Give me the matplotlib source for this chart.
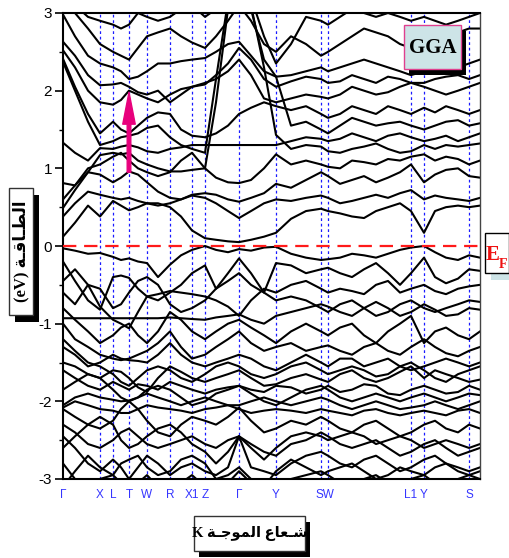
import matplotlib.pyplot as plt
from matplotlib.patches import Rectangle, FancyArrowPatch

plt.rcParams['axes.unicode_minus'] = False

W, H = 510, 558

# high-symmetry points along the k-path (path length in plot units)
kpts = [0, 37, 50, 66, 84, 107, 129, 142, 176, 213, 258, 265, 348, 361, 406]
klabels = ['Γ', 'X', 'L', 'T', 'W', 'R', 'X1', 'Z', 'Γ', 'Y', '', '', 'L1', 'Y', 'S']
# S and W are only 7 units apart, labelled together as "SW"
sw_k = 261.5
sw_label = 'SW'
kend = 417

kgrid = [0, 12, 25, 37, 50, 58, 66, 75, 84, 95, 107, 118, 129, 142, 153, 165, 176,
         188, 201, 213, 228, 243, 258, 265, 277, 289, 301, 313, 325, 337, 348, 361,
         372, 383, 395, 406, 417]

# conduction bands (eV)
cb1 = [0.12, 0.30, 0.52, 0.38, 0.58, 0.52, 0.46, 0.50, 0.55, 0.55, 0.50, 0.38, 0.20, 0.10, 0.08, 0.06, 0.05,
       0.08, 0.12, 0.17, 0.35, 0.45, 0.48, 0.45, 0.42, 0.38, 0.36, 0.45, 0.50, 0.55, 0.45, 0.17, 0.45, 0.50, 0.52, 0.50, 0.52]
cb2 = [0.38, 0.55, 0.70, 0.66, 0.62, 0.60, 0.62, 0.58, 0.55, 0.52, 0.55, 0.60, 0.65, 0.62, 0.55, 0.45, 0.36,
       0.45, 0.55, 0.60, 0.58, 0.62, 0.65, 0.62, 0.55, 0.58, 0.62, 0.66, 0.62, 0.68, 0.72, 0.60, 0.65, 0.62, 0.60, 0.58, 0.62]
cb3 = [0.49, 0.72, 0.95, 0.92, 0.82, 0.88, 0.96, 0.92, 0.82, 0.70, 0.62, 0.60, 0.66, 0.68, 0.66, 0.60, 0.57,
       0.62, 0.68, 0.80, 0.75, 0.85, 0.95, 0.90, 0.80, 0.85, 0.90, 0.82, 0.88, 0.95, 1.05, 0.82, 0.92, 0.98, 1.00, 0.90, 0.88]
cb4 = [0.60, 0.78, 1.00, 1.05, 1.15, 1.20, 1.10, 1.00, 0.95, 0.90, 0.95, 1.10, 1.20, 1.00, 0.88, 0.82, 0.81,
       0.85, 1.00, 1.18, 1.05, 1.10, 1.05, 1.02, 1.00, 1.10, 1.08, 1.05, 1.12, 1.10, 1.15, 1.18, 1.10, 1.15, 1.12, 1.05, 1.10]
cb5 = [0.81, 0.78, 0.95, 1.17, 1.20, 1.18, 1.20, 1.10, 1.05, 1.00, 0.96, 0.96, 0.98, 1.00, 1.85, 3.05, 3.40,
       3.10, 2.30, 1.43, 1.25, 1.30, 1.28, 1.22, 1.20, 1.25, 1.28, 1.32, 1.25, 1.20, 1.22, 1.30, 1.25, 1.30, 1.28, 1.30, 1.32]
cb6 = [1.33, 1.20, 1.10, 1.26, 1.25, 1.28, 1.30, 1.27, 1.22, 1.20, 1.25, 1.27, 1.30, 1.30, 1.30, 1.30, 1.30,
       1.30, 1.30, 1.30, 1.35, 1.40, 1.38, 1.35, 1.38, 1.45, 1.40, 1.35, 1.42, 1.45, 1.40, 1.35, 1.38, 1.42, 1.35, 1.40, 1.45]
cb7 = [2.37, 2.00, 1.60, 1.30, 1.35, 1.40, 1.42, 1.45, 1.52, 1.55, 1.40, 1.30, 1.25, 1.20, 2.15, 3.15, 3.40,
       3.05, 2.40, 2.18, 1.55, 1.60, 1.50, 1.45, 1.55, 1.65, 1.60, 1.55, 1.58, 1.60, 1.55, 1.50, 1.55, 1.60, 1.62, 1.55, 1.58]
cb8 = [2.41, 2.05, 1.70, 1.45, 1.60, 1.50, 1.45, 1.55, 1.65, 1.72, 1.70, 1.50, 1.42, 1.40, 1.45, 1.55, 1.70,
       1.78, 1.85, 1.80, 1.75, 1.80, 1.70, 1.65, 1.70, 1.80, 1.75, 1.70, 1.80, 1.75, 1.70, 1.78, 1.72, 1.80, 1.75, 1.70, 1.75]
cb9 = [2.52, 2.30, 2.00, 1.85, 1.82, 1.88, 2.00, 1.95, 1.90, 1.85, 1.95, 2.02, 2.05, 2.10, 2.15, 2.25, 2.40,
       2.20, 1.90, 1.85, 1.90, 1.95, 1.92, 1.90, 1.95, 2.05, 2.00, 1.95, 1.98, 2.05, 2.10, 2.05, 2.00, 1.95, 2.00, 2.05, 2.10]
cb10 = [2.63, 2.45, 2.20, 2.07, 2.08, 2.10, 2.05, 1.98, 1.95, 2.00, 1.85, 1.95, 2.05, 2.08, 2.20, 2.35, 2.55,
        2.40, 2.15, 2.05, 2.12, 2.18, 2.15, 2.10, 2.12, 2.20, 2.15, 2.10, 2.18, 2.15, 2.10, 2.10, 2.15, 2.18, 2.20, 2.15, 2.20]
cb11 = [2.98, 2.70, 2.45, 2.35, 2.30, 2.25, 2.15, 2.18, 2.25, 2.35, 2.35, 2.38, 2.40, 2.42, 2.50, 2.60, 2.63,
        2.45, 2.25, 2.18, 2.20, 2.25, 2.30, 2.25, 2.30, 2.35, 2.40, 2.35, 2.30, 2.25, 2.20, 2.25, 2.30, 2.35, 2.30, 2.35, 2.40]
cb12 = [3.20, 3.00, 2.80, 2.60, 2.50, 2.45, 2.40, 2.55, 2.70, 2.75, 2.80, 2.70, 2.62, 2.55, 2.70, 2.90, 3.10,
        2.90, 2.60, 2.50, 2.70, 2.60, 2.45, 2.50, 2.60, 2.70, 2.80, 2.75, 2.70, 2.60, 2.55, 2.60, 2.65, 2.70, 2.75, 2.80, 2.80]
cb13 = [3.30, 3.10, 2.95, 2.90, 2.85, 2.80, 2.85, 3.00, 2.95, 2.90, 2.95, 3.05, 3.10, 2.95, 3.05, 3.20, 3.40,
        3.20, 2.70, 2.35, 2.60, 2.95, 2.90, 2.85, 2.95, 3.05, 3.00, 2.95, 3.00, 2.95, 2.90, 2.95, 2.90, 2.85, 2.90, 2.95, 3.00]

# valence bands (eV)
vb1 = [-0.03, -0.06, -0.10, -0.09, -0.14, -0.18, -0.16, -0.20, -0.22, -0.40, -0.24, -0.12, -0.05, 0.00, -0.05, -0.08, -0.04,
       -0.06, -0.02, -0.01, -0.10, -0.15, -0.18, -0.17, -0.15, -0.10, -0.12, -0.15, -0.10, -0.05, -0.02, 0.00, -0.08, -0.15, -0.18, -0.12, -0.15]
vb2 = [-0.20, -0.45, -0.70, -0.82, -0.40, -0.38, -0.41, -0.55, -0.65, -0.70, -0.60, -0.50, -0.35, -0.25, -0.55, -0.35, -0.16,
       -0.35, -0.60, -0.22, -0.25, -0.35, -0.30, -0.28, -0.35, -0.40, -0.30, -0.22, -0.35, -0.50, -0.35, -0.15, -0.40, -0.48, -0.42, -0.30, -0.32]
vb3 = [-0.45, -0.30, -0.50, -0.78, -0.95, -1.00, -1.06, -0.85, -0.65, -0.62, -0.58, -0.60, -0.62, -0.65, -0.70, -0.78, -0.90,
       -0.70, -0.55, -0.60, -0.50, -0.45, -0.55, -0.60, -0.55, -0.58, -0.62, -0.50, -0.45, -0.60, -0.55, -0.50, -0.58, -0.62, -0.55, -0.52, -0.50]
vb4 = [-0.93, -0.93, -0.93, -0.93, -0.93, -0.93, -0.93, -0.93, -0.93, -0.93, -0.92, -0.93, -0.94, -0.95, -0.92, -0.90, -0.88,
       -0.95, -1.00, -0.90, -0.85, -0.80, -0.75, -0.78, -0.85, -0.90, -0.80, -0.72, -0.80, -0.90, -0.85, -0.75, -0.82, -0.90, -0.88, -0.80, -0.82]
vb5 = [-0.80, -0.95, -1.10, -1.25, -1.15, -1.05, -1.00, -1.15, -1.25, -1.10, -0.85, -0.95, -1.10, -1.20, -1.10, -1.00, -0.95,
       -1.05, -1.15, -1.25, -1.10, -1.00, -1.10, -1.15, -1.05, -1.00, -1.15, -1.25, -1.10, -1.00, -0.90, -1.25, -1.10, -1.05, -1.15, -1.20, -1.10]
vb6 = [-1.00, -1.20, -1.30, -1.40, -1.45, -1.47, -1.45, -1.40, -1.35, -1.25, -1.10, -1.30, -1.45, -1.40, -1.30, -1.20, -1.10,
       -1.25, -1.35, -1.30, -1.25, -1.35, -1.30, -1.28, -1.35, -1.40, -1.30, -1.25, -1.35, -1.40, -1.30, -1.20, -1.30, -1.38, -1.42, -1.35, -1.30]
vb7 = [-1.30, -1.40, -1.55, -1.50, -1.40, -1.45, -1.47, -1.48, -1.50, -1.40, -1.25, -1.40, -1.50, -1.55, -1.50, -1.45, -1.40,
       -1.45, -1.55, -1.60, -1.50, -1.40, -1.50, -1.55, -1.45, -1.45, -1.55, -1.50, -1.45, -1.55, -1.60, -1.55, -1.50, -1.45, -1.50, -1.55, -1.50]
vb8 = [-1.50, -1.55, -1.65, -1.70, -1.60, -1.62, -1.70, -1.82, -1.88, -1.70, -1.55, -1.62, -1.70, -1.75, -1.70, -1.65, -1.60,
       -1.70, -1.80, -1.78, -1.70, -1.65, -1.72, -1.75, -1.65, -1.60, -1.70, -1.75, -1.70, -1.62, -1.55, -1.70, -1.60, -1.65, -1.70, -1.75, -1.72]
vb9 = [-1.60, -1.70, -1.80, -1.85, -1.75, -1.80, -1.85, -1.78, -1.80, -1.85, -1.75, -1.80, -1.85, -1.90, -1.85, -1.82, -1.80,
       -1.85, -1.88, -1.80, -1.82, -1.90, -1.85, -1.80, -1.88, -1.85, -1.78, -1.80, -1.90, -1.92, -1.85, -1.80, -1.85, -1.90, -1.88, -1.80, -1.85]
vb10 = [-2.05, -1.95, -1.90, -1.95, -1.98, -2.00, -1.99, -1.95, -1.90, -1.95, -2.00, -2.05, -2.00, -1.95, -2.00, -2.05, -2.05,
        -2.00, -1.95, -2.00, -2.05, -2.00, -1.95, -1.98, -2.05, -2.10, -2.05, -2.00, -2.05, -2.10, -2.08, -2.05, -2.00, -2.05, -2.10, -2.05, -2.00]
vb11 = [-2.08, -2.00, -2.05, -2.10, -2.12, -2.15, -2.15, -2.10, -2.05, -2.08, -2.10, -2.12, -2.15, -2.10, -2.08, -2.05, -2.10,
        -2.15, -2.12, -2.10, -2.12, -2.15, -2.10, -2.12, -2.15, -2.18, -2.12, -2.10, -2.15, -2.18, -2.15, -2.12, -2.15, -2.18, -2.12, -2.10, -2.15]
vb12 = [-2.10, -2.20, -2.30, -2.35, -2.25, -2.10, -2.00, -2.10, -2.25, -2.40, -2.45, -2.30, -2.20, -2.25, -2.30, -2.20, -2.08,
        -2.25, -2.40, -2.35, -2.25, -2.30, -2.20, -2.25, -2.35, -2.40, -2.30, -2.25, -2.35, -2.45, -2.40, -2.30, -2.25, -2.35, -2.40, -2.30, -2.35]
vb13 = [-2.30, -2.40, -2.55, -2.60, -2.50, -2.40, -2.35, -2.45, -2.55, -2.60, -2.55, -2.50, -2.45, -2.55, -2.60, -2.50, -2.45,
        -2.55, -2.65, -2.70, -2.55, -2.50, -2.40, -2.45, -2.55, -2.60, -2.55, -2.50, -2.60, -2.70, -2.65, -2.55, -2.50, -2.60, -2.70, -2.65, -2.60]
vb14 = [-2.45, -2.60, -2.80, -2.90, -2.75, -2.85, -3.00, -2.85, -2.70, -2.80, -2.95, -2.85, -2.80, -2.90, -2.95, -2.85, -2.45,
        -2.85, -2.90, -2.95, -2.80, -2.70, -2.65, -2.70, -2.80, -2.85, -2.75, -2.70, -2.80, -2.90, -2.85, -2.75, -2.70, -2.80, -2.85, -2.90, -2.85]
vb15 = [-2.80, -3.00, -3.10, -3.00, -2.95, -3.05, -3.10, -3.05, -2.95, -3.10, -3.15, -3.05, -2.95, -3.10, -3.20, -3.05, -2.90,
        -3.05, -3.20, -3.10, -3.00, -2.95, -2.90, -2.95, -3.05, -3.10, -3.00, -2.95, -3.05, -3.10, -3.00, -2.95, -3.05, -3.10, -3.00, -2.95, -3.00]
vb16 = [-1.20, -1.35, -1.50, -1.55, -1.65, -1.75, -1.80, -1.70, -1.60, -1.55, -1.60, -1.70, -1.75, -1.65, -1.55, -1.50, -1.55,
        -1.65, -1.70, -1.65, -1.55, -1.50, -1.60, -1.65, -1.60, -1.55, -1.60, -1.68, -1.65, -1.55, -1.50, -1.60, -1.70, -1.75, -1.65, -1.60, -1.55]
vb17 = [-1.85, -1.75, -1.65, -1.70, -1.85, -1.95, -2.00, -1.95, -1.85, -1.80, -1.85, -1.95, -2.05, -2.00, -1.90, -1.85, -1.80,
        -1.90, -2.00, -2.05, -1.95, -1.85, -1.80, -1.85, -1.95, -2.00, -1.95, -1.90, -1.95, -2.00, -1.95, -1.90, -1.95, -2.00, -1.95, -1.90, -1.92]
vb18 = [-2.60, -2.45, -2.30, -2.20, -2.30, -2.50, -2.60, -2.55, -2.45, -2.35, -2.30, -2.40, -2.55, -2.65, -2.80, -2.65, -2.45,
        -2.60, -2.75, -2.60, -2.45, -2.40, -2.45, -2.50, -2.45, -2.40, -2.45, -2.55, -2.50, -2.45, -2.50, -2.60, -2.55, -2.50, -2.55, -2.60, -2.55]
vb19 = [-3.10, -2.90, -2.70, -2.85, -2.95, -2.80, -2.75, -2.70, -2.85, -2.95, -2.90, -2.75, -2.70, -2.80, -3.00, -2.95, -2.85,
        -3.00, -3.10, -2.90, -2.75, -2.85, -2.95, -2.90, -2.85, -2.80, -2.90, -3.00, -2.95, -2.85, -2.90, -2.95, -2.85, -2.80, -2.90, -2.95, -2.90]
vb20 = [-0.60, -0.75, -0.50, -0.55, -0.80, -0.75, -0.60, -0.45, -0.40, -0.50, -0.75, -0.85, -0.80, -0.70, -0.55, -0.45, -0.35,
        -0.50, -0.60, -0.70, -0.65, -0.70, -0.80, -0.85, -0.75, -0.70, -0.80, -0.90, -0.85, -0.75, -0.70, -0.80, -0.85, -0.80, -0.75, -0.70, -0.72]

bands = [cb1, cb2, cb3, cb4, cb5, cb6, cb7, cb8, cb9, cb10, cb11, cb12, cb13,
         vb1, vb2, vb3, vb4, vb5, vb6, vb7, vb8, vb9, vb10, vb11, vb12, vb13, vb14,
         vb15, vb16, vb17, vb18, vb19, vb20]

# transition arrow at T (eV)
arrow_k = 66
arrow_from, arrow_to = 0.95, 1.98


def fig_xy(x, y):
    # pixel position (top-left origin) -> figure fraction
    return x / W, 1 - y / H


def box(fig, x0, y0, x1, y1, **kw):
    fx, fy = fig_xy(x0, y1)
    r = Rectangle((fx, fy), (x1 - x0) / W, (y1 - y0) / H, transform=fig.transFigure, **kw)
    fig.add_artist(r)


fig = plt.figure(figsize=(W / 100, H / 100), dpi=100)
ax = fig.add_axes([63 / W, 1 - 479 / H, 417 / W, 466 / H])

for kx in kpts[1:]:
    ax.axvline(kx, color='#1a1aff', lw=0.9, ls=(0, (2.2, 2.2)), zorder=1)

for b in bands:
    ax.plot(kgrid, b, color='black', lw=1.5, solid_joinstyle='round', zorder=2)

ax.axhline(0, color='#ff1a1a', lw=1.6, ls=(0, (6, 3.5)), zorder=3)

arr = FancyArrowPatch((arrow_k, arrow_from), (arrow_k, arrow_to),
                      arrowstyle='simple,head_length=23,head_width=9,tail_width=2.6',
                      mutation_scale=1, shrinkA=0, shrinkB=0,
                      color='#e8007c', zorder=4)
ax.add_patch(arr)

ax.set_xlim(0, kend)
ax.set_ylim(-3, 3)
ax.set_xticks(kpts)
ax.set_xticklabels(klabels, color='#3535ff', fontsize=8.5, family='Liberation Sans')
ax.set_xticks([sw_k], minor=True)
ax.set_xticklabels([sw_label], minor=True, color='#3535ff', fontsize=8.5, family='Liberation Sans')
ax.tick_params(axis='x', which='both', length=0, pad=7)
ax.set_yticks(range(-3, 4))
ax.set_yticks([-2.5, -1.5, -0.5, 0.5, 1.5, 2.5], minor=True)
ax.tick_params(axis='y', which='major', direction='out', length=6, width=1.2, labelsize=11, pad=2)
ax.tick_params(axis='y', which='minor', direction='out', length=3, width=1)
for lab in ax.get_yticklabels():
    lab.set_family('Liberation Sans')
for s in ['left', 'bottom', 'top']:
    ax.spines[s].set_linewidth(1.5)
ax.spines['right'].set_linewidth(1)
ax.spines['right'].set_color('#444444')

# GGA label
box(fig, 409, 31, 466, 75, facecolor='black', edgecolor='none', zorder=5)
box(fig, 404, 25, 461, 69, facecolor='#cde4e7', edgecolor='#e0408f', lw=1, zorder=6)
fig.text(*fig_xy(432.5, 48), 'GGA', ha='center', va='center', fontsize=15,
         fontweight='bold', family='Liberation Serif', zorder=7)

# E_F label
box(fig, 491, 240, 515, 280, facecolor='#cde4e7', edgecolor='none', zorder=5)
box(fig, 485, 233, 509, 273, facecolor='white', edgecolor='black', lw=1, zorder=6)
fig.text(*fig_xy(493, 255), 'E', ha='center', va='center', fontsize=15,
         fontweight='bold', family='Liberation Serif', color='#ee1111', zorder=7)
fig.text(*fig_xy(503, 264), 'F', ha='center', va='center', fontsize=10,
         fontweight='bold', family='Liberation Serif', color='#ee1111', zorder=7)

# y label: energy (eV)
ylab = '(eV) ' + '\ufe94\u0640\ufed7\ufe8e\u0640\ufec4\ufedf\ufe8d'
box(fig, 15, 195, 39, 322, facecolor='black', edgecolor='none', zorder=5)
box(fig, 9, 188, 33, 315, facecolor='white', edgecolor='#333333', lw=1, zorder=6)
fig.text(*fig_xy(21.5, 251.5), ylab, rotation=90, ha='center', va='center', fontsize=12,
         fontweight='bold', family=['Liberation Serif', 'DejaVu Sans'], zorder=7)

# x label: wave vector K
xlab = 'K ' + '\ufe94\u0640\ufe9f\ufeee\ufee4\ufedf\ufe8d' + ' ' + '\ufec9\ufe8e\ufecc\u0640\ufeb7'
box(fig, 199, 522, 310, 557, facecolor='black', edgecolor='none', zorder=5)
box(fig, 194, 516, 305, 551, facecolor='white', edgecolor='#333333', lw=1, zorder=6)
fig.text(*fig_xy(249.5, 533.5), xlab, ha='center', va='center', fontsize=10.5,
         fontweight='bold', family=['Liberation Serif', 'DejaVu Sans'], zorder=7)

fig.savefig('out.png', dpi=100)
